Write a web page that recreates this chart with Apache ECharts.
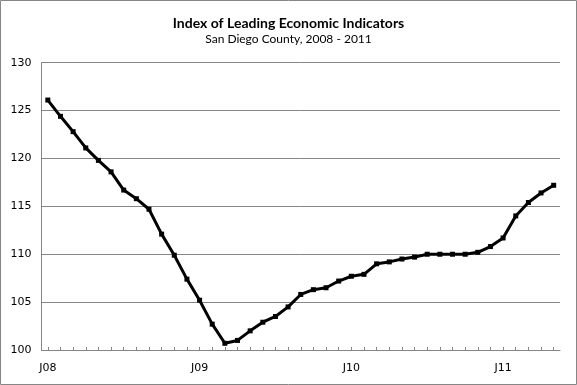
<!DOCTYPE html>
<html>
<head>
<meta charset="utf-8">
<script src="https://cdn.jsdelivr.net/npm/echarts@6/dist/echarts.min.js"></script>
<style>html,body{margin:0;padding:0;background:#fff;}#c{width:577px;height:385px;}</style>
</head>
<body>
<div id="c"></div>
<script>
const titleText = "Index of Leading Economic Indicators";
const subtitleText = "San Diego County, 2008 - 2011";
const months = ["J08","F08","M08","A08","M08","J08","J08","A08","S08","O08","N08","D08",
                "J09","F09","M09","A09","M09","J09","J09","A09","S09","O09","N09","D09",
                "J10","F10","M10","A10","M10","J10","J10","A10","S10","O10","N10","D10",
                "J11","F11","M11","A11","M11"];
const indexValues = [126.1,124.4,122.8,121.1,119.8,118.6,116.7,115.8,114.7,112.1,109.9,107.4,
                     105.2,102.7,100.7,101.0,102.0,102.9,103.5,104.5,105.8,106.3,106.5,107.2,
                     107.7,107.9,109.0,109.2,109.5,109.7,110.0,110.0,110.0,110.0,110.2,110.8,
                     111.7,114.0,115.4,116.4,117.2];
const yMin = 100, yMax = 130, yStep = 5;

const chart = echarts.init(document.getElementById('c'), null, {renderer:'canvas'});
chart.setOption({
  animation:false,
  backgroundColor:'#fff',
  graphic:[{type:'rect', shape:{x:0.5,y:0.5,width:576,height:384}, style:{fill:'none', stroke:'#868686', lineWidth:1}, silent:true}],
  title:{
    text:titleText, subtext:subtitleText, left:'center', top:11, itemGap:3,
    textStyle:{fontFamily:'Lato', fontWeight:'bold', fontSize:14, color:'#000'},
    subtextStyle:{fontFamily:'Lato', fontSize:12, color:'#000'}
  },
  grid:{left:41.5, right:17, top:62.7, bottom:35, containLabel:false},
  xAxis:{
    type:'category', data:months, boundaryGap:true,
    axisLine:{lineStyle:{color:'#868686', width:1}},
    axisTick:{show:true, interval:0, alignWithLabel:true, inside:true, length:3, lineStyle:{color:'#868686'}},
    axisLabel:{interval:11, margin:13, fontFamily:'DejaVu Sans', fontSize:11, color:'#000'},
    splitLine:{show:false}
  },
  yAxis:{
    type:'value', min:yMin, max:yMax, interval:yStep,
    axisLine:{show:true, lineStyle:{color:'#868686', width:1}},
    axisTick:{show:false},
    axisLabel:{margin:10, fontFamily:'DejaVu Sans', fontSize:11, color:'#000'},
    splitLine:{show:true, lineStyle:{color:'#868686', width:1}}
  },
  series:[{
    type:'line', data:indexValues,
    symbol:'rect', symbolSize:5, showAllSymbol:true,
    lineStyle:{color:'#000', width:3},
    itemStyle:{color:'#000'}
  }]
});
</script>
</body>
</html>
